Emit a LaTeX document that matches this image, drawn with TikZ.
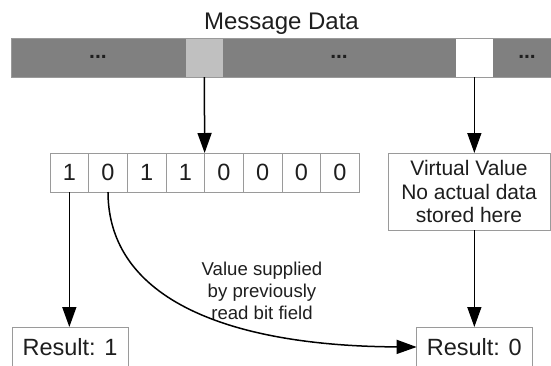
\documentclass[tikz,border=0pt]{standalone}
\usepackage{fontspec}
\setmainfont{Liberation Sans}
\usetikzlibrary{arrows.meta}
\definecolor{bardark}{HTML}{808080}
\definecolor{barlight}{HTML}{C0C0C0}
\definecolor{boxline}{HTML}{9A9A9A}
\definecolor{txt}{HTML}{1E1E1E}
\tikzset{
  cellbox/.style={draw=boxline, line width=0.9pt, fill=white, inner sep=0pt, outer sep=0pt,
    minimum width=38.66pt, minimum height=39pt, font=\fontsize{23.5}{26}\selectfont, text=txt},
  infobox/.style={draw=boxline, line width=0.9pt, fill=white, inner sep=0pt, outer sep=0pt,
    align=center, text=txt},
  dots/.style={font=\bfseries\fontsize{21}{24}\selectfont, text=txt},
  conn/.style={line width=1.5pt, -{Triangle[length=20pt,width=14pt]}},
}
\begin{document}
\begin{tikzpicture}[x=1pt,y=-1pt]
\useasboundingbox (0,0) rectangle (551,365);
\clip (0,0) rectangle (551,365);
% title
\node[font=\fontsize{24}{28}\selectfont, text=txt] (title) at (281.5,23.5) {Message Data};
% data bar
\node[fill=bardark, draw=boxline, line width=0.6pt, inner sep=0pt, outer sep=0pt,
      minimum width=552pt, minimum height=38.3pt, anchor=north west] (bar) at (11.6,38.7) {};
\node[fill=barlight, inner sep=0pt, outer sep=0pt, minimum width=36.7pt, minimum height=38.3pt, anchor=north west] (lc) at (186,38.7) {};
\node[fill=white, inner sep=0pt, outer sep=0pt, minimum width=37.3pt, minimum height=38.3pt, anchor=north west] (wc) at (455.7,38.7) {};
\node[dots] (d1) at (98,57) {...};
\node[dots] (d2) at (339,57) {...};
\node[dots] (d3) at (527,57) {...};
% bit cells
\foreach \v [count=\i] in {1,0,1,1,0,0,0,0} {
  \node[cellbox] (b\i) at ({50+38.66*(\i-0.5)},172.5) {\v};
}
% virtual value box
\node[infobox, minimum width=162pt, minimum height=77pt, font=\fontsize{21}{23.5}\selectfont]
  (virt) at (469,191.5) {Virtual Value\\No actual data\\stored here};
% result boxes
\node[infobox, minimum width=116pt, minimum height=40pt, font=\fontsize{23.5}{26}\selectfont]
  (r1) at (70,347) {Result: 1};
\node[infobox, minimum width=115.3pt, minimum height=40pt, font=\fontsize{23.5}{26}\selectfont]
  (r0) at (474.3,347) {Result: 0};
% connectors
\draw[conn] (lc.south) -- (b4.north east);
\draw[conn] (wc.south) -- (wc.south |- virt.north);
\draw[conn] (b1.south) -- (b1.south |- r1.north);
\draw[conn] (virt.south -| wc.south) -- (wc.south |- r0.north);
\draw[conn] (b2.south) .. controls (108.3,300) and (230,346) .. (r0.west);
% label
\node[font=\fontsize{18.6}{22}\selectfont, align=center, text=txt] (lbl) at (262,291)
  {Value supplied\\by previously\\read bit field};
\end{tikzpicture}
\end{document}
